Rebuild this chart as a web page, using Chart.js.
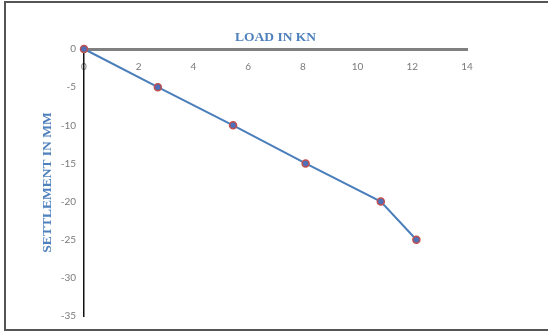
<!DOCTYPE html>
<html>
<head>
<meta charset="utf-8">
<script src="https://cdn.jsdelivr.net/npm/chart.js@4"></script>
<style>
  html, body { margin: 0; padding: 0; background: #fff; overflow: hidden; }
  #wrap { position: relative; width: 548px; height: 331px; }
  #frame { position: absolute; left: 4px; top: 1px; width: 580px; height: 326px; border: 2px solid #555; }
  #myChart { position: absolute; left: 0; top: 0; }
</style>
</head>
<body>
<div id="wrap">
  <div id="frame"></div>
  <canvas id="myChart" width="548" height="331"></canvas>
</div>
<script>
// values
var loadKN = [0, 2.7, 5.45, 8.1, 10.85, 12.15]
var settlementMM = [0, -5, -10, -15, -20, -25]
var xTitle = "LOAD IN KN"
var yTitle = "SETTLEMENT IN MM"

var points = []
for (var i = 0; i < loadKN.length; i++) {
    points.push({ x: loadKN[i], y: settlementMM[i] })
}

var tickFont = { family: "Lato", size: 10 }
var titleFont = { family: "Liberation Serif", size: 13.5, weight: "bold" }

const config = {
    type: 'scatter',
    data: {
        datasets: [{
            data: points,
            showLine: true,
            borderColor: '#4a7ebb',
            borderWidth: 2,
            pointRadius: 3.5,
            pointBackgroundColor: '#4f6fb8',
            pointBorderColor: '#c0504d',
            pointBorderWidth: 1.5,
            clip: false
        }]
    },
    options: {
        responsive: false,
        animation: false,
        layout: { padding: { left: 0, top: 0, right: 81, bottom: 15 } },
        plugins: { legend: { display: false }, tooltip: { enabled: false } },
        scales: {
            x: {
                type: 'linear',
                position: 'top',
                min: 0,
                max: 14,
                grid: { display: false, drawTicks: false },
                border: { display: true, color: '#808080', width: 3 },
                ticks: { stepSize: 2, mirror: true, padding: 12, color: '#7a7a7a', font: tickFont },
                title: { display: true, text: xTitle, color: '#4f81bd', font: titleFont, padding: { top: 29, bottom: 0 } },
                afterFit: function (scale) { scale.height = 49 }
            },
            y: {
                type: 'linear',
                position: 'left',
                min: -35,
                max: 0,
                grid: { display: false, drawTicks: false },
                border: { display: true, color: '#111', width: 1.5 },
                ticks: { stepSize: 5, padding: 8, color: '#7a7a7a', font: tickFont },
                title: { display: true, text: yTitle, color: '#4f81bd', font: titleFont, padding: { top: 39, bottom: 0 } },
                afterFit: function (scale) { scale.width = 84 }
            }
        }
    }
};

const myChart = new Chart(document.getElementById('myChart'), config);
</script>
</body>
</html>
